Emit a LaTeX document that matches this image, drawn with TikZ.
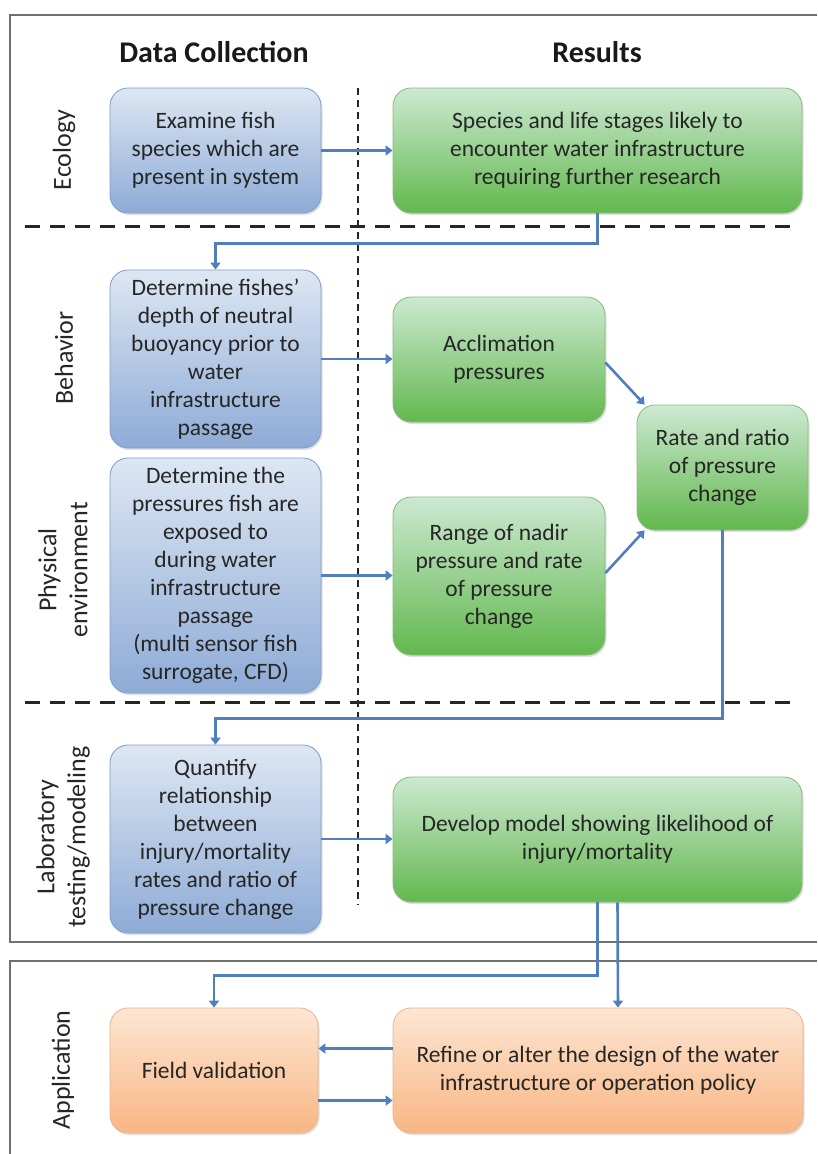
\documentclass[tikz,border=0pt]{standalone}
\usepackage{fontspec}
\setmainfont{Carlito}
\usepackage{tikz}
\usetikzlibrary{positioning, arrows.meta, calc, shadows}

\definecolor{flowblue}{HTML}{4F7FBF}
\definecolor{dctop}{HTML}{DDE7F3}
\definecolor{dcbot}{HTML}{8EABD6}
\definecolor{dcline}{HTML}{7F9BC6}
\definecolor{restop}{HTML}{CDE9D2}
\definecolor{resbot}{HTML}{62B84E}
\definecolor{resline}{HTML}{86BB78}
\definecolor{apptop}{HTML}{FDE6D3}
\definecolor{appbot}{HTML}{F8B684}
\definecolor{appline}{HTML}{E6B48E}
\definecolor{framegray}{HTML}{707070}

\begin{document}
\begin{tikzpicture}[
    x=1pt, y=-1pt,
    % Style for the boxes
    box/.style={
        rectangle,
        rounded corners=18pt,
        line width=0.8pt,
        align=center,
        text=black!85,
        font=\fontsize{23.5}{28}\selectfont,
        inner sep=3pt,
        drop shadow={opacity=0.25, shadow xshift=1.5pt, shadow yshift=-2pt}
    },
    dcbox/.style={box, draw=dcline, top color=dctop, bottom color=dcbot},
    resbox/.style={box, draw=resline, top color=restop, bottom color=resbot},
    appbox/.style={box, draw=appline, top color=apptop, bottom color=appbot},
    rowlabel/.style={rotate=90, align=center, font=\fontsize{26}{31}\selectfont, text=black!85},
    header/.style={font=\fontsize{30}{34}\selectfont\bfseries, text=black!90},
    flow/.style={draw=flowblue, line width=2.6pt, -{Triangle[length=7pt, width=10pt]}},
    frame/.style={draw=framegray, line width=2pt},
    rowsep/.style={draw=black!85, line width=3pt, dash pattern=on 15pt off 10pt},
    colsep/.style={draw=black!85, line width=2pt, dash pattern=on 7pt off 5pt}
]

    \useasboundingbox (0,0) rectangle (817,1154);

    % --- Frames ---
    \draw[frame] (817,15) -- (10,15) -- (10,942) -- (817,942);
    \draw[frame] (817,961) -- (10,961) -- (10,1154);

    % --- Separators ---
    \draw[rowsep] (25,226) -- (795,226);
    \draw[rowsep] (25,702) -- (795,702);
    \draw[colsep] (358,88) -- (358,905);

    % --- Headers and row labels ---
    \node[header] (hdata) at (214,52) {Data Collection};
    \node[header] (hres) at (597,52) {Results};

    \node[rowlabel] (leco) at (64,150) {Ecology};
    \node[rowlabel] (lbeh) at (64,358) {Behavior};
    \node[rowlabel] (lphys) at (63,570) {Physical\\environment};
    \node[rowlabel] (llab) at (63,837) {Laboratory\\testing/modeling};
    \node[rowlabel] (lapp) at (63,1070) {Application};

    % --- Data collection boxes ---
    \node[dcbox, minimum width=211pt, minimum height=125pt] (eco) at (215.5,150.5)
        {Examine fish\\species which are\\present in system};
    \node[dcbox, minimum width=211pt, minimum height=178pt] (beh) at (215.5,359)
        {Determine fishes’\\depth of neutral\\buoyancy prior to\\water\\infrastructure\\passage};
    \node[dcbox, minimum width=211pt, minimum height=235pt] (phys) at (215.5,575.5)
        {Determine the\\pressures fish are\\exposed to\\during water\\infrastructure\\passage\\(multi sensor fish\\surrogate, CFD)};
    \node[dcbox, minimum width=211pt, minimum height=188pt] (lab) at (215.5,839)
        {Quantify\\relationship\\between\\injury/mortality\\rates and ratio of\\pressure change};

    % --- Result boxes ---
    \node[resbox, minimum width=409pt, minimum height=125pt] (species) at (597.5,150.5)
        {Species and life stages likely to\\encounter water infrastructure\\requiring further research};
    \node[resbox, minimum width=212pt, minimum height=125pt] (accl) at (499,359.5)
        {Acclimation\\pressures};
    \node[resbox, minimum width=212pt, minimum height=158pt] (range) at (499,576)
        {Range of nadir\\pressure and rate\\of pressure\\change};
    \node[resbox, minimum width=171pt, minimum height=125pt] (rate) at (722.5,467.5)
        {Rate and ratio\\of pressure\\change};
    \node[resbox, minimum width=409pt, minimum height=125pt] (model) at (597.5,839.5)
        {Develop model showing likelihood of\\injury/mortality};

    % --- Application boxes ---
    \node[appbox, minimum width=208pt, minimum height=125pt] (field) at (214,1070.5)
        {Field validation};
    \node[appbox, minimum width=410pt, minimum height=125pt] (refine) at (598,1070.5)
        {Refine or alter the design of the water\\infrastructure or operation policy};

    % --- Connectors ---
    \draw[flow] (eco.east) -- (species.west);
    \draw[flow] (beh.east) -- (beh.east -| accl.west);
    \draw[flow] (phys.east) -- (phys.east -| range.west);
    \draw[flow] (lab.east) -- (lab.east -| model.west);

    \draw[flow] ($(accl.east)+(0,3)$) -- ($(rate.north west)+(8,0)$);
    \draw[flow] ($(range.east)+(0,-3)$) -- ($(rate.south west)+(8,0)$);

    \draw[flow] (species.south) -- ++(0,30) -| (beh.north);
    \draw[flow] (rate.south) -- ++(0,188) -| (lab.north);

    \draw[flow] (model.south) -- ++(0,73) -| (field.north);
    \draw[flow] ($(model.south)+(20,0)$) -- ($(refine.north)+(20,0)$);

    \draw[flow] ($(refine.west)+(0,-22)$) -- ($(field.east)+(0,-22)$);
    \draw[flow] ($(field.east)+(0,30)$) -- ($(refine.west)+(0,30)$);

\end{tikzpicture}
\end{document}
